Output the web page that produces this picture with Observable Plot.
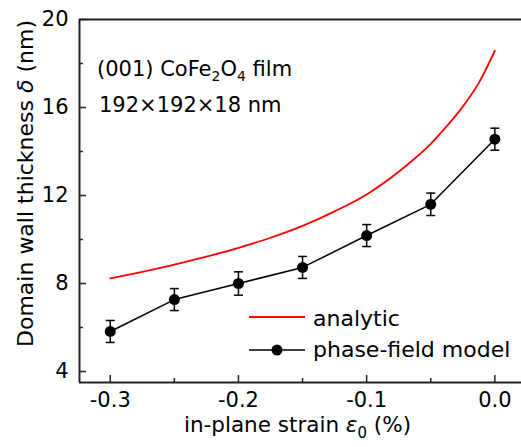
<!DOCTYPE html>
<html><head><meta charset="utf-8">
<script src="https://cdn.jsdelivr.net/npm/d3@7"></script>
<script src="https://cdn.jsdelivr.net/npm/@observablehq/plot@0.6"></script>
<style>body{margin:0;background:#fff}#chart{width:521px;height:447px}</style>
</head><body><div id="chart"></div>
<script>
// phase-field model results
const strain = [-0.3, -0.25, -0.2, -0.15, -0.1, -0.05, 0.0];
const phaseField = [5.82, 7.27, 8.0, 8.73, 10.18, 11.6, 14.56];
const phaseErr = [0.5, 0.5, 0.53, 0.5, 0.5, 0.51, 0.5];
// analytic curve
const analyticStrain = [-0.3, -0.275, -0.25, -0.225, -0.2, -0.175, -0.15, -0.125, -0.1, -0.075, -0.0625, -0.05, -0.0375, -0.025, -0.0125, 0.0];
const analyticValue = [8.23, 8.53, 8.86, 9.22, 9.62, 10.08, 10.62, 11.28, 12.05, 13.08, 13.68, 14.35, 15.15, 16.04, 17.12, 18.58];
// ticks
const xMajor = [-0.3, -0.2, -0.1, 0.0];
const xMinor = [-0.25, -0.15, -0.05];
const yMajor = [4, 8, 12, 16, 20];
const yMinor = [6, 10, 14, 18];
const legendLabels = ["analytic", "phase-field model"];

const pf = strain.map((x, i) => ({x, y: phaseField[i], lo: phaseField[i] - phaseErr[i], hi: phaseField[i] + phaseErr[i]}));
const an = analyticStrain.map((x, i) => ({x, y: analyticValue[i]}));
const xDomain = [-0.324, 0.0208];
const yDomain = [3.5, 20];
const capSymbol = {draw(ctx) { ctx.moveTo(-4.5, 0); ctx.lineTo(4.5, 0); }};
const axisColor = "#222";

const plot = Plot.plot({
  width: 521, height: 447,
  marginLeft: 79, marginRight: 0, marginTop: 19, marginBottom: 65,
  style: {fontFamily: "DejaVu Sans", fontSize: "21px", color: "#000", background: "#fff"},
  x: {domain: xDomain},
  y: {domain: yDomain},
  marks: [
    Plot.axisX({ticks: xMajor, tickSize: -7, tickPadding: 17, tickFormat: d => d.toFixed(1), label: null, stroke: axisColor, strokeWidth: 1.5}),
    Plot.axisX({ticks: xMinor, tickSize: -4, text: null, label: null, stroke: axisColor, strokeWidth: 1.5}),
    Plot.axisY({ticks: yMajor, tickSize: -7, tickPadding: 18, tickFormat: d => String(d), label: null, stroke: axisColor, strokeWidth: 1.5}),
    Plot.axisY({ticks: yMinor, tickSize: -4, text: null, label: null, stroke: axisColor, strokeWidth: 1.5}),
    Plot.ruleY([yDomain[0], yDomain[1]], {stroke: axisColor, strokeWidth: 2}),
    Plot.ruleX([xDomain[0]], {stroke: axisColor, strokeWidth: 2}),
    Plot.line(an, {x: "x", y: "y", stroke: "#ff0000", strokeWidth: 1.8, curve: "monotone-x"}),
    Plot.line(pf, {x: "x", y: "y", stroke: "#000", strokeWidth: 1.5}),
    Plot.ruleX(pf, {x: "x", y1: "lo", y2: "hi", stroke: "#000", strokeWidth: 1.5}),
    Plot.dot(pf, {x: "x", y: "lo", symbol: capSymbol, fill: "none", stroke: "#000", strokeWidth: 1.5}),
    Plot.dot(pf, {x: "x", y: "hi", symbol: capSymbol, fill: "none", stroke: "#000", strokeWidth: 1.5}),
    Plot.dot(pf, {x: "x", y: "y", r: 5.5, fill: "#000", stroke: "none"})
  ]
});
document.getElementById("chart").appendChild(plot);

const svg = d3.select(plot);
const font = "DejaVu Sans";
function txt(x, y, size, anchor) {
  return svg.append("text").attr("x", x).attr("y", y).attr("font-family", font)
    .attr("font-size", size).attr("text-anchor", anchor).attr("fill", "#000");
}
// y axis title
const yt = svg.append("text").attr("transform", "translate(33,183.5) rotate(-90)")
  .attr("text-anchor", "middle").attr("font-family", font).attr("font-size", 22).attr("fill", "#000");
yt.append("tspan").text("Domain wall thickness ");
yt.append("tspan").attr("font-style", "italic").text("δ");
yt.append("tspan").text(" (nm)");
// x axis title
const xt = txt(297.5, 432, 21.5, "middle");
xt.append("tspan").text("in-plane strain ");
xt.append("tspan").attr("font-style", "italic").text("ε");
xt.append("tspan").attr("font-size", 15).attr("dy", 6).text("0");
xt.append("tspan").attr("dy", -6).text(" (%)");
// annotation
const a1 = txt(97, 76, 21, "start");
a1.append("tspan").text("(001) CoFe");
a1.append("tspan").attr("font-size", 14).attr("dy", 5).text("2");
a1.append("tspan").attr("dy", -5).text("O");
a1.append("tspan").attr("font-size", 14).attr("dy", 5).text("4");
a1.append("tspan").attr("dy", -5).text(" film");
txt(99, 112, 21, "start").text("192×192×18 nm");
// legend
const lg = svg.append("g");
lg.append("line").attr("x1", 249).attr("x2", 305).attr("y1", 317).attr("y2", 317).attr("stroke", "#ff0000").attr("stroke-width", 1.8);
txt(313, 326, 22, "start").text(legendLabels[0]);
lg.append("line").attr("x1", 249).attr("x2", 305).attr("y1", 350).attr("y2", 350).attr("stroke", "#000").attr("stroke-width", 1.5);
lg.append("circle").attr("cx", 277).attr("cy", 350).attr("r", 5.5).attr("fill", "#000");
txt(313, 357, 22, "start").text(legendLabels[1]);
</script>
</body></html>
